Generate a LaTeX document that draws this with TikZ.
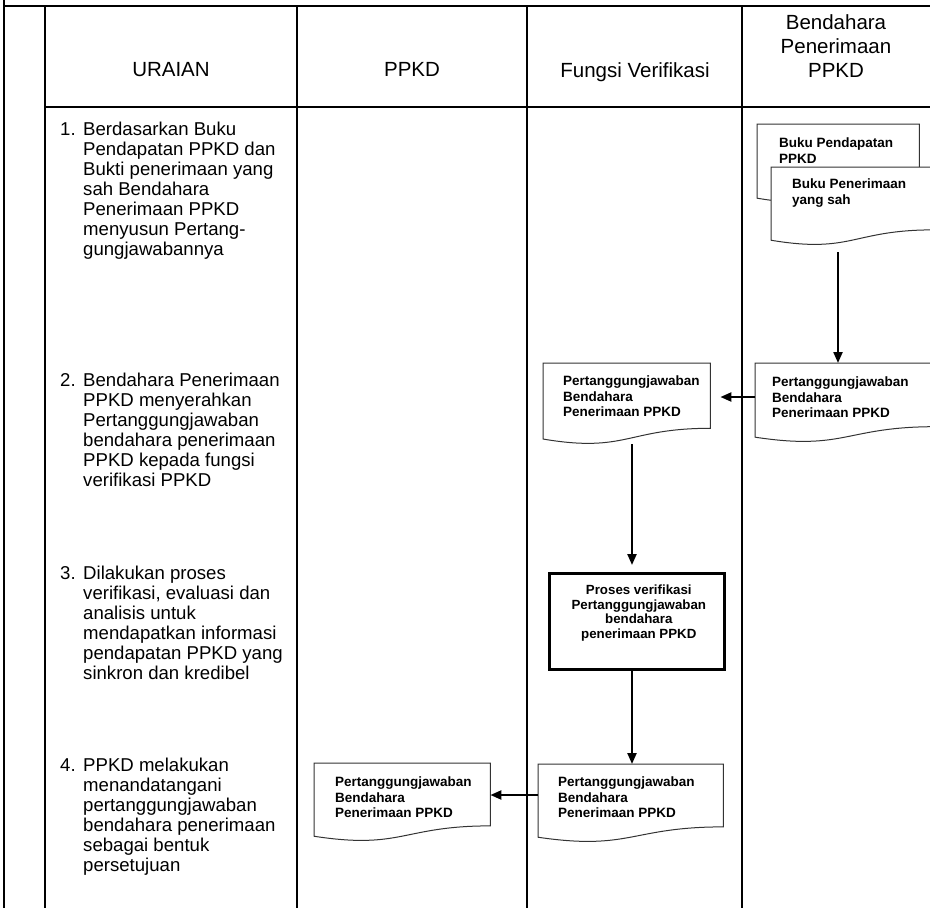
\documentclass[tikz,border=0pt]{standalone}
\usepackage{fontspec}
\setmainfont{Liberation Sans}
\usetikzlibrary{calc,arrows.meta}

\tikzset{
  tablerule/.style={line width=2.2pt, black},
  hdr/.style={font=\fontsize{20.5}{24}\selectfont, align=center, inner sep=0pt, anchor=north},
  body/.style={font=\fontsize{18.6}{20}\selectfont, align=left, inner sep=0pt, anchor=north west},
  docbox/.style={draw=none, inner sep=0pt, anchor=north west},
  docline/.style={draw=black!80, line width=1pt, fill=white},
  doctext/.style={font=\fontsize{13.5}{15.5}\selectfont\bfseries, align=left, inner sep=0pt, anchor=north west},
  procbox/.style={draw, line width=2.6pt, inner sep=0pt, anchor=north west},
  proctext/.style={font=\fontsize{13.3}{14.5}\selectfont\bfseries, align=center, inner sep=0pt, anchor=north},
  flow/.style={line width=2.2pt, -{Triangle[length=11pt,width=9pt]}},
}

% document symbol: flat top, wavy bottom edge
\newcommand\drawdocshape[1]{%
  \draw[docline] (#1.north west) -- (#1.north east)
    -- ($(#1.north east)!0.802!(#1.south east)$)
    .. controls ($(#1.north)!0.802!(#1.south)$) and ($(#1.north)!1.1075!(#1.south)$)
    .. ($(#1.north west)!0.934!(#1.south west)$) -- cycle;}

\begin{document}
\begin{tikzpicture}[x=1pt, y=-1pt]
\useasboundingbox (0,0) rectangle (930,908);
\clip (0,0) rectangle (930,908);

% table rules
\draw[tablerule] (4,0) -- (4,908);
\draw[tablerule] (4,6) -- (930,6);
\draw[tablerule] (45,6) -- (45,908);
\draw[tablerule] (297,6) -- (297,908);
\draw[tablerule] (527,6) -- (527,908);
\draw[tablerule] (742,6) -- (742,908);
\draw[tablerule] (45,107) -- (930,107);

% column headings
\node[hdr] (h1) at (171,62.6) {URAIAN};
\node[hdr] (h2) at (412,62.6) {PPKD};
\node[hdr] (h3) at (635,62.6) {Fungsi Verifikasi};
\node[hdr] (h4) at (836,14.6) {Bendahara\\Penerimaan\\PPKD};

% step descriptions
\node[body] (n1) at (60,122) {\vphantom{Bd}1.};
\node[body] (u1) at (83,122) {Berdasarkan Buku\\Pendapatan PPKD dan\\Bukti penerimaan yang\\sah Bendahara\\Penerimaan PPKD\\menyusun Pertang-\\gungjawabannya};
\node[body] (n2) at (60,373) {\vphantom{Bd}2.};
\node[body] (u2) at (83,373) {Bendahara Penerimaan\\PPKD menyerahkan\\Pertanggungjawaban\\bendahara penerimaan\\PPKD kepada fungsi\\verifikasi PPKD};
\node[body] (n3) at (60,566) {\vphantom{Bd}3.};
\node[body] (u3) at (83,566) {Dilakukan proses\\verifikasi, evaluasi dan\\analisis untuk\\mendapatkan informasi\\pendapatan PPKD yang\\sinkron dan kredibel};
\node[body] (n4) at (60,758) {\vphantom{Bd}4.};
\node[body] (u4) at (83,758) {PPKD melakukan\\menandatangani\\pertanggungjawaban\\bendahara penerimaan\\sebagai bentuk\\persetujuan};

% documents
\node[docbox, minimum width=162pt, minimum height=79pt] (d1) at (757,124) {};
\drawdocshape{d1}
\node[doctext] (d1t) at ($(d1.north west)+(22,14)$) {Buku Pendapatan\\PPKD};

\node[docbox, minimum width=162pt, minimum height=78pt] (d2) at (771,167) {};
\drawdocshape{d2}
\node[doctext] (d2t) at ($(d2.north west)+(21,12)$) {Buku Penerimaan\\yang sah};

\node[docbox, minimum width=180pt, minimum height=79pt] (d3) at (755,363) {};
\drawdocshape{d3}
\node[doctext] (d3t) at ($(d3.north west)+(17,14)$) {Pertanggungjawaban\\Bendahara\\Penerimaan PPKD};

\node[docbox, minimum width=167pt, minimum height=81pt] (d4) at (543,363) {};
\drawdocshape{d4}
\node[doctext] (d4t) at ($(d4.north west)+(20,13)$) {Pertanggungjawaban\\Bendahara\\Penerimaan PPKD};

\node[docbox, minimum width=185pt, minimum height=78pt] (d5) at (538,764) {};
\drawdocshape{d5}
\node[doctext] (d5t) at ($(d5.north west)+(20,13)$) {Pertanggungjawaban\\Bendahara\\Penerimaan PPKD};

\node[docbox, minimum width=176pt, minimum height=78pt] (d6) at (314,763) {};
\drawdocshape{d6}
\node[doctext] (d6t) at ($(d6.north west)+(21,14)$) {Pertanggungjawaban\\Bendahara\\Penerimaan PPKD};

% verification process
\node[procbox, minimum width=175pt, minimum height=96pt] (P) at (548,572) {};
\node[proctext] (Pt) at ($(P.north)+(2,13)$) {Proses verifikasi\\Pertanggungjawaban\\bendahara\\penerimaan PPKD};

% flow
\coordinate (xb) at (838,0);
\coordinate (xv) at (632,0);
\coordinate (yr2) at (0,397);
\coordinate (yr4) at (0,795);
\draw[flow, shorten <=7pt] (d2.south -| xb) -- (d3.north -| xb);
\draw[flow, shorten >=10pt] (d3.west |- yr2) -- (d4.east |- yr2);
\draw[flow, shorten >=7pt] (d4.south -| xv) -- (P.north -| xv);
\draw[flow] (P.south -| xv) -- (d5.north -| xv);
\draw[flow] (d5.west |- yr4) -- (d6.east |- yr4);
\end{tikzpicture}
\end{document}
